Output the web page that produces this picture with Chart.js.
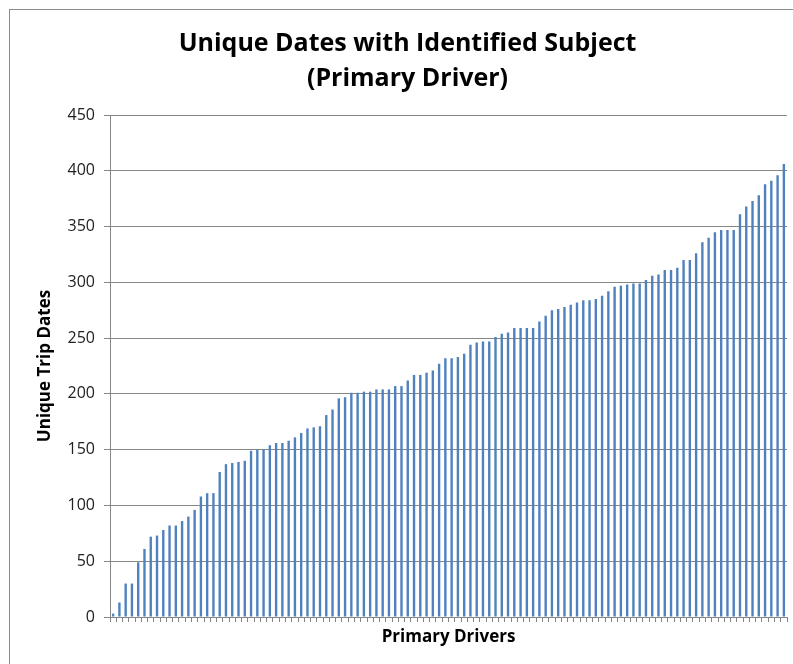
<!DOCTYPE html>
<html>
<head>
<meta charset="utf-8">
<script src="https://cdn.jsdelivr.net/npm/chart.js@4.4.1/dist/chart.umd.min.js"></script>
<style>
  html, body { margin: 0; padding: 0; background: #fff; overflow: hidden; width: 793px; height: 664px; }
  #frame { position: absolute; left: 9px; top: 9px; width: 820px; height: 720px; border: 1px solid #8c8c8c; box-sizing: border-box; }
  #c { position: absolute; left: 0; top: 0; }
</style>
</head>
<body>
<div id="frame"></div>
<canvas id="c" width="793" height="664"></canvas>
<script>
// Data (drivers sorted ascending)
const uniqueTripDates = [
  3, 13, 30, 30, 49, 61, 72, 73, 78, 82,
  82, 86, 90, 96, 108, 111, 111, 130, 137, 138,
  139, 140, 149, 150, 150, 154, 156, 156, 158, 161,
  165, 169, 170, 171, 181, 186, 196, 197, 201, 201,
  202, 202, 204, 204, 204, 207, 207, 212, 217, 217,
  219, 221, 227, 232, 232, 233, 236, 244, 246, 247,
  247, 251, 254, 255, 259, 259, 259, 259, 265, 270,
  275, 276, 278, 280, 282, 284, 284, 285, 288, 292,
  296, 297, 298, 299, 299, 302, 306, 307, 311, 311,
  313, 320, 320, 326, 336, 340, 345, 347, 347, 347,
  361, 368, 373, 378, 388, 391, 396, 406
];
const driverLabels = uniqueTripDates.map((_, i) => 'Driver ' + (i + 1));
const titleLines = ['Unique Dates with Identified Subject', '(Primary Driver)'];
const yAxisTitle = 'Unique Trip Dates';
const xAxisTitle = 'Primary Drivers';
const yMin = 0, yMax = 450, yStep = 50;

const gridGrey = '#868686';

// centre the title over the framed chart rather than the canvas
const titleShift = {
  id: 'titleShift',
  afterLayout(chart) {
    if (chart.titleBlock) { chart.titleBlock.left = 28; }
  }
};

new Chart(document.getElementById('c'), {
  type: 'bar',
  data: {
    labels: driverLabels,
    datasets: [{
      data: uniqueTripDates,
      backgroundColor: '#4F81BD',
      borderWidth: 0,
      barPercentage: 0.38,
      categoryPercentage: 1.0
    }]
  },
  plugins: [titleShift],
  options: {
    responsive: false,
    animation: false,
    devicePixelRatio: 1,
    layout: { padding: { left: 0, right: 6, top: 0, bottom: 0 } },
    plugins: {
      legend: { display: false },
      tooltip: { enabled: false },
      title: {
        display: true,
        text: titleLines,
        color: '#000',
        font: { family: 'Open Sans', weight: 'bold', size: 25, lineHeight: 1.4 },
        padding: { top: 26, bottom: 19 }
      }
    },
    scales: {
      x: {
        afterFit: (s) => { s.height = 47; },
        grid: {
          display: true,
          drawOnChartArea: false,
          drawTicks: true,
          tickLength: 5,
          color: gridGrey,
          offset: true
        },
        border: { display: true, color: gridGrey, width: 1 },
        ticks: { display: false, autoSkip: false },
        title: {
          display: true,
          text: xAxisTitle,
          color: '#000',
          font: { family: 'Open Sans', weight: 'bold', size: 17, lineHeight: 1.2 },
          padding: { top: 0, bottom: 17 }
        }
      },
      y: {
        min: yMin,
        max: yMax,
        afterFit: (s) => { s.width = 110; },
        grid: {
          color: gridGrey,
          lineWidth: 1,
          drawTicks: true,
          tickLength: 6
        },
        border: { display: true, color: gridGrey, width: 1 },
        ticks: {
          stepSize: yStep,
          padding: 9,
          color: '#222',
          font: { family: 'Open Sans', size: 16 }
        },
        title: {
          display: true,
          text: yAxisTitle,
          color: '#000',
          font: { family: 'Open Sans', weight: 'bold', size: 17, lineHeight: 1.2 },
          padding: { top: 35, bottom: 0 }
        }
      }
    }
  }
});
</script>
</body>
</html>
